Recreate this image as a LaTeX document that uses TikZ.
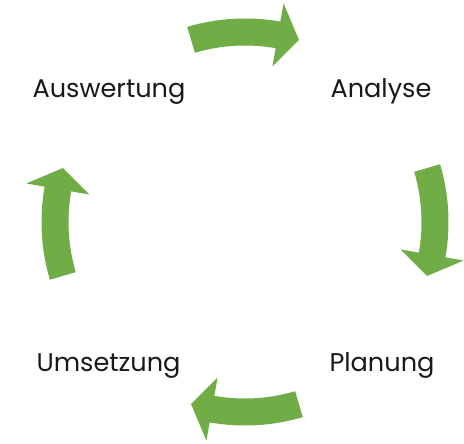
\documentclass[tikz,border=0pt]{standalone}
\usepackage{fontspec}
\setmainfont{Poppins}
\usepackage{xcolor}
\usetikzlibrary{positioning}

\definecolor{cyclegreen}{RGB}{112,173,71}

\tikzset{
    phase/.style={anchor=base, font=\fontsize{25.6}{30}\selectfont, text=black!90},
    cyclearrow/.pic={
        \fill[cyclegreen] (16.5:176.5) arc[start angle=16.5, end angle=-10, radius=176.5]
            -- (-10:158) -- (-16.5:190) -- (-10:222) -- (-10:203.5)
            arc[start angle=-10, end angle=16.5, radius=203.5] -- cycle;
    }
}

\begin{document}
\begin{tikzpicture}[x=1pt, y=1pt]
        \useasboundingbox (-245, -222) rectangle (219, 222);

        \node[phase] (auswertung) at (-136, 124) {Auswertung};
        \node[phase] (analyse) at (136, 124) {Analyse};
        \node[phase] (planung) at (137, -150) {Planung};
        \node[phase] (umsetzung) at (-136.5, -150) {Umsetzung};

        \pic[rotate=90] at (0, 0) {cyclearrow};
        \pic[rotate=0] at (0, 0) {cyclearrow};
        \pic[rotate=-90] at (0, 0) {cyclearrow};
        \pic[rotate=180] at (0, 0) {cyclearrow};
    \end{tikzpicture}
\end{document}
